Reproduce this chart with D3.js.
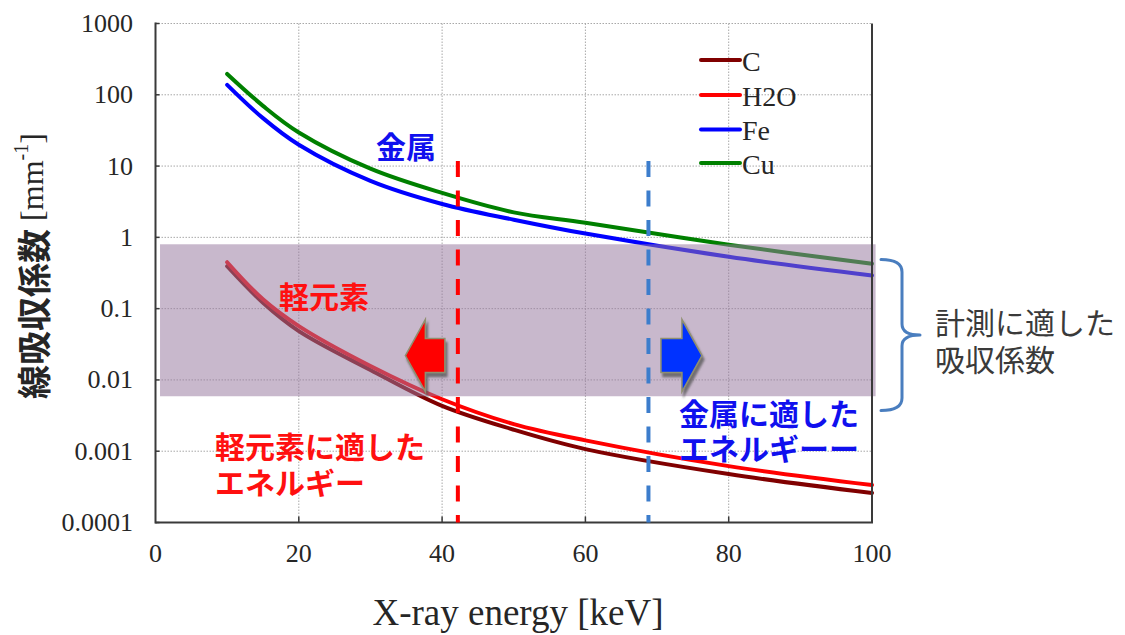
<!DOCTYPE html>
<html>
<head>
<meta charset="utf-8">
<script src="https://cdn.jsdelivr.net/npm/d3@7"></script>
<style>
  html, body { margin: 0; padding: 0; background: #ffffff; }
  svg { display: block; }
</style>
</head>
<body>
<div id="chart"></div>
<script>
// X-ray energy sample points [keV]
const energies = [10, 15, 20, 30, 40, 50, 60, 80, 100];
// Linear attenuation coefficients [mm^-1]
const carbon = [0.394, 0.121, 0.0485, 0.0138, 0.00432, 0.002, 0.00107, 0.000478, 0.000259];
const water  = [0.448, 0.135, 0.0569, 0.0157, 0.00536, 0.0024, 0.00142, 0.000618, 0.000335];
const iron   = [138, 47, 19.9, 6.2, 2.94, 1.77, 1.13, 0.533, 0.292];
const copper = [196, 70, 29.6, 9.2, 4.2, 2.24, 1.6, 0.79, 0.425];

const seriesNames  = ["C", "H2O", "Fe", "Cu"];
const seriesColors = ["#800000", "#ff0000", "#0000ff", "#008000"];
const seriesValues = [carbon, water, iron, copper];

const xTicks = [0, 20, 40, 60, 80, 100];
const yTicks = [0.0001, 0.001, 0.01, 0.1, 1, 10, 100, 1000];
const yTickLabels = ["0.0001", "0.001", "0.01", "0.1", "1", "10", "100", "1000"];

// Range of coefficients that suits measurement, and the two threshold energies
const measurableRange = [0.0059, 0.8];
const lightLimit = 42.2;
const metalLimit = 68.8;

const W = 1125, H = 635;
const plot = { left: 155.5, right: 872, top: 23.5, bottom: 522.5 };

const svg = d3.select("#chart").append("svg")
  .attr("width", W).attr("height", H);

const x = d3.scaleLinear().domain([0, 100]).range([plot.left, plot.right]);
const y = d3.scaleLog().domain([0.0001, 1000]).range([plot.bottom, plot.top]);

const serif = "'Liberation Serif', 'Times New Roman', serif";
const cjk = "'Noto Sans CJK JP', 'Noto Sans', sans-serif";
// Annotation stack: Japanese glyphs come from Noto Sans CJK JP, line box from Liberation Sans
const noteFont = "'Liberation Sans', 'Noto Sans CJK JP', sans-serif";

// Grid
const grid = svg.append("g").attr("stroke", "#a8a8a8").attr("stroke-width", 1)
  .attr("stroke-dasharray", "1.5 1.5");
grid.selectAll("line.h").data(yTicks).join("line")
  .attr("x1", plot.left).attr("x2", plot.right)
  .attr("y1", d => y(d)).attr("y2", d => y(d));
grid.selectAll("line.v").data(xTicks.filter(d => d > 0 && d < 100)).join("line")
  .attr("class", "v")
  .attr("x1", d => x(d)).attr("x2", d => x(d))
  .attr("y1", plot.top).attr("y2", plot.bottom);

// Curves
const line = d3.line()
  .x((d, i) => x(energies[i]))
  .y(d => y(d))
  .curve(d3.curveCatmullRom.alpha(0.5));

svg.append("g").selectAll("path").data(seriesValues).join("path")
  .attr("d", d => line(d))
  .attr("fill", "none")
  .attr("stroke", (d, i) => seriesColors[i])
  .attr("stroke-width", 4)
  .attr("stroke-linecap", "round")
  .attr("stroke-linejoin", "round");

// Translucent band marking the measurable coefficient range
svg.append("rect")
  .attr("x", x(0.63)).attr("width", x(100.5) - x(0.63))
  .attr("y", y(measurableRange[1]))
  .attr("height", y(measurableRange[0]) - y(measurableRange[1]))
  .attr("fill", "rgb(151,121,158)")
  .attr("fill-opacity", 0.53);

// Frame and ticks
const frame = svg.append("g").attr("stroke", "#3a3a3a").attr("stroke-width", 2).attr("fill", "none");
frame.append("line").attr("x1", plot.left).attr("x2", plot.left).attr("y1", plot.top - 1).attr("y2", plot.bottom + 1);
frame.append("line").attr("x1", plot.left).attr("x2", plot.right + 1).attr("y1", plot.bottom).attr("y2", plot.bottom);
frame.append("line").attr("x1", plot.right).attr("x2", plot.right).attr("y1", plot.top).attr("y2", plot.bottom);
frame.selectAll("line.yt").data(yTicks).join("line").attr("class", "yt")
  .attr("x1", plot.left).attr("x2", plot.left + 4)
  .attr("y1", d => y(d)).attr("y2", d => y(d))
  .attr("stroke-width", 1.5);
frame.selectAll("line.xt").data(xTicks.filter(d => d > 0 && d < 100)).join("line").attr("class", "xt")
  .attr("x1", d => x(d)).attr("x2", d => x(d))
  .attr("y1", plot.bottom).attr("y2", plot.bottom - 6)
  .attr("stroke-width", 1.5);

// Tick labels
svg.append("g").selectAll("text").data(yTicks).join("text")
  .attr("x", 133).attr("y", d => y(d))
  .attr("text-anchor", "end").attr("dominant-baseline", "central")
  .attr("font-family", serif).attr("font-size", 26).attr("fill", "#262626")
  .text((d, i) => yTickLabels[i]);
svg.append("g").selectAll("text").data(xTicks).join("text")
  .attr("x", d => x(d)).attr("y", 553)
  .attr("text-anchor", "middle").attr("dominant-baseline", "central")
  .attr("font-family", serif).attr("font-size", 26).attr("fill", "#262626")
  .text(d => d);

// Axis titles
svg.append("text")
  .attr("x", 518).attr("y", 612)
  .attr("text-anchor", "middle").attr("dominant-baseline", "central")
  .attr("font-family", serif).attr("font-size", 37).attr("fill", "#262626")
  .text("X-ray energy [keV]");

const yTitle = svg.append("text")
  .attr("transform", "translate(32,266) rotate(-90)")
  .attr("text-anchor", "middle")
  .attr("dominant-baseline", "central")
  .attr("fill", "#262626");
yTitle.append("tspan").attr("font-family", cjk).attr("font-size", 34).attr("font-weight", 700).text("線吸収係数");
yTitle.append("tspan").attr("font-family", serif).attr("font-size", 32).text(" [mm");
yTitle.append("tspan").attr("font-family", serif).attr("font-size", 20).attr("dy", -11).text("-1");
yTitle.append("tspan").attr("font-family", serif).attr("font-size", 32).attr("dy", 11).text("]");

// Threshold energies
const dashTop = 161;
svg.append("line")
  .attr("x1", x(lightLimit)).attr("x2", x(lightLimit))
  .attr("y1", dashTop).attr("y2", plot.bottom)
  .attr("stroke", "#ff0000").attr("stroke-width", 4)
  .attr("stroke-dasharray", "16 13.5");
svg.append("line")
  .attr("x1", x(metalLimit)).attr("x2", x(metalLimit))
  .attr("y1", dashTop).attr("y2", plot.bottom)
  .attr("stroke", "#3c7dcc").attr("stroke-width", 4)
  .attr("stroke-dasharray", "16 13.5");

// Block arrows pointing toward each suitable energy side
const defs = svg.append("defs");
const shadow = defs.append("filter").attr("id", "arrowShadow")
  .attr("x", "-20%").attr("y", "-20%").attr("width", "150%").attr("height", "150%");
shadow.append("feDropShadow").attr("dx", 2).attr("dy", 4).attr("stdDeviation", 0.8)
  .attr("flood-color", "#555555").attr("flood-opacity", 0.75);

function blockArrow(tipX, baseX, cy, dir) {
  // dir = -1 points left, +1 points right
  const headLen = 20, headHalf = 36, shaftHalf = 17;
  const neckX = tipX - dir * headLen;
  return [
    [tipX, cy],
    [neckX, cy - headHalf],
    [neckX, cy - shaftHalf],
    [baseX, cy - shaftHalf],
    [baseX, cy + shaftHalf],
    [neckX, cy + shaftHalf],
    [neckX, cy + headHalf]
  ];
}
const arrowY = y(0.022);
const arrows = [
  { pts: blockArrow(x(lightLimit) - 52.5, x(lightLimit) - 13, arrowY, -1), color: "#ff0000" },
  { pts: blockArrow(x(metalLimit) + 53.5, x(metalLimit) + 12.5, arrowY, 1), color: "#0033ff" }
];
svg.append("g").selectAll("path").data(arrows).join("path")
  .attr("d", d => "M" + d.pts.map(p => p.join(",")).join("L") + "Z")
  .attr("fill", d => d.color)
  .attr("stroke", "#8f8f70").attr("stroke-width", 1.5)
  .attr("stroke-linejoin", "miter")
  .attr("filter", "url(#arrowShadow)");

// Annotation labels; y is the vertical centre of the first line
const notes = [
  { text: ["金属"], x: 376, y: 144.5, gap: 0, color: "#1010ee", weight: 700 },
  { text: ["軽元素"], x: 279, y: 295, gap: 0, color: "#ff1010", weight: 700 },
  { text: ["軽元素に適した", "エネルギー"], x: 215, y: 445, gap: 35.5, color: "#ff1010", weight: 700 },
  { text: ["金属に適した", "エネルギーー"], x: 679, y: 411.5, gap: 35, color: "#1010ee", weight: 700 },
  { text: ["計測に適した", "吸収係数"], x: 935, y: 320.5, gap: 37, color: "#3a3a3a", weight: 400 }
];
const noteSize = 30;
notes.forEach(n => {
  const t = svg.append("text")
    .attr("font-family", noteFont).attr("font-size", noteSize).attr("font-weight", n.weight)
    .attr("fill", n.color);
  t.selectAll("tspan").data(n.text).join("tspan")
    .attr("x", n.x)
    .attr("y", (d, i) => n.y + i * n.gap + noteSize * 0.436)
    .text(d => d);
});

// Brace grouping the band
svg.append("path")
  .attr("d", "M881,259.5 Q902,259.5 902,272 L902,324 Q902,335 920,335 Q902,335 902,346 L902,398 Q902,410.5 881,410.5")
  .attr("fill", "none").attr("stroke", "#4a7ebf").attr("stroke-width", 3)
  .attr("stroke-linecap", "round").attr("stroke-linejoin", "round");

// Legend
const legend = svg.append("g");
const legendY = [60, 95, 129.5, 163];
legend.selectAll("line").data(seriesNames).join("line")
  .attr("x1", 701).attr("x2", 740)
  .attr("y1", (d, i) => legendY[i]).attr("y2", (d, i) => legendY[i])
  .attr("stroke", (d, i) => seriesColors[i]).attr("stroke-width", 4)
  .attr("stroke-linecap", "round");
legend.selectAll("text").data(seriesNames).join("text")
  .attr("x", 742).attr("y", (d, i) => legendY[i] + 1)
  .attr("dominant-baseline", "central")
  .attr("font-family", serif).attr("font-size", 28).attr("fill", "#262626")
  .text(d => d);
</script>
</body>
</html>
